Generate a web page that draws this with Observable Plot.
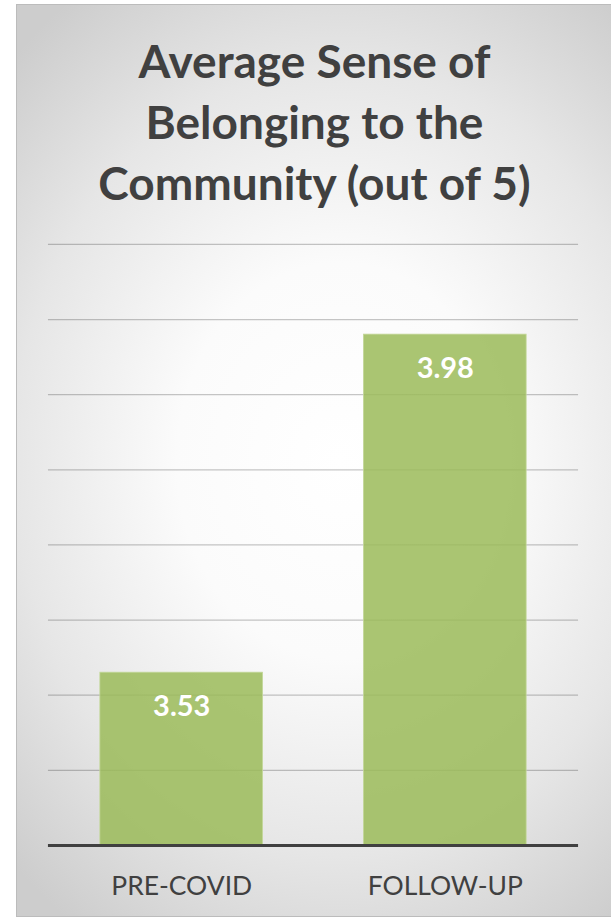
<!DOCTYPE html>
<html>
<head>
<meta charset="utf-8">
<script src="https://cdn.jsdelivr.net/npm/d3@7"></script>
<script src="https://cdn.jsdelivr.net/npm/@observablehq/plot@0.6"></script>
<style>
  html, body { margin: 0; padding: 0; background: #ffffff; }
  #frame {
    position: absolute; left: 16px; top: 4px; width: 600px; height: 913px;
    box-sizing: border-box; border: 1px solid #bcbcbc;
    background: radial-gradient(ellipse 78% 62% at 54% 50%, #ffffff 0%, #fbfbfb 35%, #e6e6e6 70%, #cdcdcd 100%);
    overflow: hidden;
  }
  #title {
    position: absolute; left: 0; top: 25px; width: 595px; text-align: center;
    font-family: Lato, "Open Sans", sans-serif; font-weight: 700; font-size: 46px;
    line-height: 61px; color: #404040; white-space: nowrap;
  }
  #chart { position: absolute; left: -1px; top: 225px; }
</style>
</head>
<body>
<div id="frame">
  <div id="title">Average Sense of<br>Belonging to the<br>Community (out of 5)</div>
  <div id="chart"></div>
</div>
<script>
const categories = ["PRE-COVID", "FOLLOW-UP"];
const values = [3.53, 3.98];
const valueLabels = ["3.53", "3.98"];
const yMin = 3.3;
const yMax = 4.1;
const gridTicks = [3.4, 3.5, 3.6, 3.7, 3.8, 3.9, 4.0, 4.1];

const data = categories.map((c, i) => ({category: c, value: values[i], label: valueLabels[i]}));

const chart = Plot.plot({
  width: 600,
  height: 690,
  marginTop: 14,
  marginBottom: 74,
  marginLeft: 32,
  marginRight: 37,
  style: {background: "transparent", fontFamily: "Lato, 'Open Sans', sans-serif", overflow: "visible"},
  x: {domain: categories, paddingInner: 0.381, paddingOuter: 0.1925, label: null},
  y: {domain: [yMin, yMax], axis: null},
  marks: [
    Plot.ruleY(gridTicks, {stroke: "#000000", strokeWidth: 1.3, strokeOpacity: 0.22}),
    Plot.barY(data, {x: "category", y1: yMin, y2: "value", fill: "#9bbb59", fillOpacity: 0.85, stroke: "#c4d89a", strokeWidth: 0.8}),
    Plot.text(data, {x: "category", y: "value", text: "label", dy: 34, fill: "#ffffff", fontSize: 29, fontWeight: 700, lineAnchor: "middle"}),
    Plot.ruleY([yMin], {stroke: "#404040", strokeWidth: 3}),
    Plot.axisX({tickSize: 0, tickPadding: 31, fontSize: 26.5, fill: "#404040", label: null})
  ]
});
document.getElementById("chart").appendChild(chart);
</script>
</body>
</html>
